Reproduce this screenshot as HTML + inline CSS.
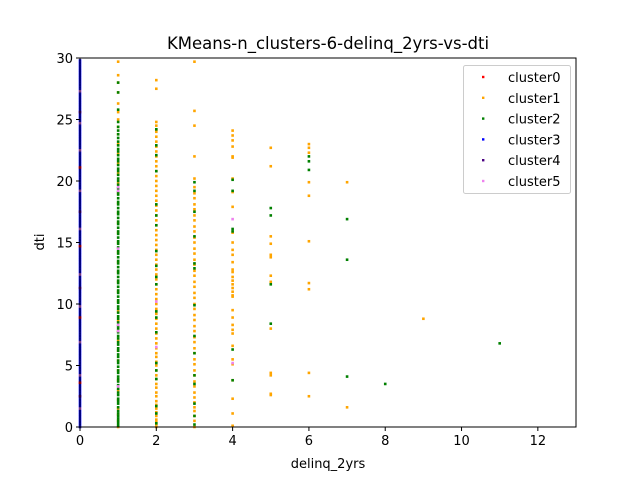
<!DOCTYPE html>
<html><head><meta charset="utf-8"><style>
body{margin:0;background:#fff;}
svg{display:block;font-family:"DejaVu Sans","Liberation Sans",sans-serif;}
</style></head><body>
<svg id="chart" width="640" height="480" viewBox="0 0 640 480">
<rect width="640" height="480" fill="#fff"/>
<text x="328" y="49" font-size="16.5" text-anchor="middle">KMeans-n_clusters-6-delinq_2yrs-vs-dti</text>
<g id="plot"></g>
<g id="axes"></g>
<text x="328" y="468" font-size="13" text-anchor="middle">delinq_2yrs</text>
<text x="0" y="0" font-size="13" text-anchor="middle" transform="translate(44,242) rotate(-90)">dti</text>
<g id="legend"></g>
</svg>
<script>
const xTicks=[0,2,4,6,8,10,12];
const yTicks=[0,5,10,15,20,25,30];
const clusterNames=["cluster0","cluster1","cluster2","cluster3","cluster4","cluster5"];
const clusterColors=["red","orange","green","blue","indigo","violet"];
const c3x0=[0,0.2,0.4,0.6,0.8,1,1.2,1.4,1.6,1.8,2,2.2,2.4,2.6,2.8,3,3.2,3.4,3.6,3.8,4,4.2,4.4,4.6,4.8,5,5.2,5.4,5.6,5.8,6,6.2,6.4,6.6,6.8,7,7.2,7.4,7.6,7.8,8,8.2,8.4,8.6,8.8,9,9.2,9.4,9.6,9.8,10,10.2,10.4,10.6,10.8,11,11.2,11.4,11.6,11.8,12,12.2,12.4,12.6,12.8,13,13.2,13.4,13.6,13.8,14,14.2,14.4,14.6,14.8,15,15.2,15.4,15.6,15.8,16,16.2,16.4,16.6,16.8,17,17.2,17.4,17.6,17.8,18,18.2,18.4,18.6,18.8,19,19.2,19.4,19.6,19.8,20,20.2,20.4,20.6,20.8,21,21.2,21.4,21.6,21.8,22,22.2,22.4,22.6,22.8,23,23.2,23.4,23.6,23.8,24,24.2,24.4,24.6,24.8,25,25.2,25.4,25.6,25.8,26,26.2,26.4,26.6,26.8,27,27.2,27.4,27.6,27.8,28,28.2,28.4,28.6,28.8,29,29.2,29.4,29.6,29.8];
const c5x0=[1.5,4.2,6.9,9.8,12.4,16.1,19.2,22.5,24.7,27.3];
const c4x0=[2.5,11.3,17.5,25.6];
const c0x0=[3.6,8.9,14.7,21.1];
const c1x1=[0,0.5,1,1.5,2.2,3,3.8,4.6,5.4,6.2,7,7.8,8.6,9.4,10.2,11,11.8,12.6,13.4,14.2,15,15.8,16.6,17.4,18.2,19,19.8,20.6,21.4,22.2,23,23.8,24.4,25,25.6,26.3,27.2,28,28.6,29.7];
const c2x1=[0.1,0.3,0.5,0.7,0.9,1.1,1.3,1.6,1.9,2.1,2.3,2.6,2.8,3.1,3.4,3.7,3.9,4.1,4.4,4.6,4.9,5.2,5.4,5.7,5.9,6.2,6.4,6.7,6.9,7.2,7.4,7.7,8,8.2,8.5,8.8,9,9.3,9.6,9.8,10.1,10.3,10.6,10.9,11.1,11.4,11.7,11.9,12.2,12.5,12.7,13,13.3,13.5,13.8,14.1,14.3,14.6,14.9,15.1,15.4,15.7,15.9,16.2,16.5,16.7,17,17.3,17.5,17.8,18.1,18.3,18.6,18.9,19.1,19.4,19.7,20,20.2,20.5,20.8,21,21.3,21.6,21.8,22.1,22.4,22.6,22.9,23.2,23.5,23.8,24.1,24.4,24.8,25.8,27.2,28];
const c5x1=[3.3,7.8,8.3,14.5,19.2,19.5];
const c1x2=[0,0.2,0.4,0.6,0.9,1.2,1.5,1.8,2.1,2.5,2.8,3.2,3.5,3.9,4.2,4.6,5,5.3,5.7,6,6.4,6.8,7.2,7.6,8,8.4,8.8,9.2,9.6,10,10.4,10.8,11.2,11.6,12,12.4,12.8,13.2,13.6,14,14.4,14.8,15.2,15.6,16,16.4,16.8,17.2,17.6,18,18.4,18.8,19.2,19.6,20,20.4,20.8,21.2,21.6,22,22.4,22.8,23.2,23.6,24,24.2,24.5,24.8,27.5,28.2];
const c2x2=[0.3,1.1,1.7,3.9,4.6,5.2,7.7,8.9,9.4,11.6,12.2,13.1,14.3,16.4,17.2,18.1,20.8,22.1,22.9,24.2];
const c5x2=[6.5,10.2];
const c1x3=[0,0.5,0.9,1.3,1.6,2,2.4,2.8,3.3,3.7,4.2,4.6,5.1,5.5,6,6.4,6.9,7.3,7.8,8.2,8.7,9.1,9.6,10,10.5,10.9,11.4,11.8,12.3,12.7,13.2,13.6,14.1,14.5,15,15.4,15.9,16.3,16.8,17.2,17.7,18.1,18.6,19,19.5,20.2,22,24.5,25.7,29.7];
const c2x3=[0.2,0.9,1.9,3.5,4.2,6,7.4,9.9,12.9,13.3,15.5,17.5,19.2,19.9];
const c1x4=[0.1,1.1,2.3,3.8,5.1,5.5,6.6,7.6,7.9,8.3,8.9,9.5,10.6,10.7,11,11.3,11.6,11.9,12.2,12.6,12.8,13.4,14,14.4,15,15.8,17.9,19.1,20.2,21.9,22,22.8,23.3,23.7,24.1];
const c2x4=[3.8,6.3,15.9,16.1,19.2,20.1];
const c5x4=[16.9,5.2];
const c1x5=[2.6,2.7,4.2,4.4,8,11.8,12.3,13.8,14,14.9,15.5,21.2,22.7];
const c2x5=[8.4,11.6,17.2,17.8];
const c1x6=[2.5,4.4,11.2,11.7,15.1,18.8,19.9,22.3,22.7,23];
const c2x6=[20.9,21.6,22];
const c1x7=[1.6,19.9];
const c2x7=[4.1,13.6,16.9];
const c2x8=[3.5];
const c1x9=[8.8];
const c2x11=[6.8];

const NS="http://www.w3.org/2000/svg";
const L=80,R=576,T=58,B=427,XMAX=13,YMAX=30;
function X(v){return L+v/XMAX*(R-L);}
function Y(v){return B-v/YMAX*(B-T);}
const plot=document.getElementById('plot');
function pts(x,arr,ci){
  arr.forEach(v=>{
    const r=document.createElementNS(NS,'rect');
    r.setAttribute('x',X(x)-1.3);r.setAttribute('y',Y(v)-1.3);
    r.setAttribute('width',2.6);r.setAttribute('height',2.6);
    r.setAttribute('fill',clusterColors[ci]);
    
    
    plot.appendChild(r);
  });
}
pts(1,c1x1,1);pts(1,c2x1,2);pts(1,c5x1,5);
pts(2,c1x2,1);pts(2,c2x2,2);pts(2,c5x2,5);
pts(3,c1x3,1);pts(3,c2x3,2);
pts(4,c1x4,1);pts(4,c2x4,2);pts(4,c5x4,5);
pts(5,c1x5,1);pts(5,c2x5,2);
pts(6,c1x6,1);pts(6,c2x6,2);
pts(7,c1x7,1);pts(7,c2x7,2);
pts(8,c2x8,2);pts(9,c1x9,1);pts(11,c2x11,2);
pts(0,c3x0,3);pts(0,c5x0,5);pts(0,c4x0,4);pts(0,c0x0,0);

const axes=document.getElementById('axes');
const fr=document.createElementNS(NS,'rect');
fr.setAttribute('x',L);fr.setAttribute('y',T);fr.setAttribute('width',R-L);fr.setAttribute('height',B-T);
fr.setAttribute('fill','none');fr.setAttribute('stroke','#000');fr.setAttribute('stroke-width','1');


axes.appendChild(fr);
xTicks.forEach(t=>{
  const l=document.createElementNS(NS,'line');
  l.setAttribute('x1',X(t));l.setAttribute('x2',X(t));l.setAttribute('y1',B);l.setAttribute('y2',B+4);l.setAttribute('stroke','#000');
  
  
  axes.appendChild(l);
  const tx=document.createElementNS(NS,'text');
  tx.setAttribute('x',X(t));tx.setAttribute('y',B+18);tx.setAttribute('font-size','13');tx.setAttribute('text-anchor','middle');
  tx.textContent=t;
  
  
  axes.appendChild(tx);
});
yTicks.forEach(t=>{
  const l=document.createElementNS(NS,'line');
  l.setAttribute('x1',L-4);l.setAttribute('x2',L);l.setAttribute('y1',Y(t));l.setAttribute('y2',Y(t));l.setAttribute('stroke','#000');
  
  
  axes.appendChild(l);
  const tx=document.createElementNS(NS,'text');
  tx.setAttribute('x',L-7);tx.setAttribute('y',Y(t)+5);tx.setAttribute('font-size','13');tx.setAttribute('text-anchor','end');
  tx.textContent=t;
  
  
  axes.appendChild(tx);
});

const lg=document.getElementById('legend');
const box=document.createElementNS(NS,'rect');
box.setAttribute('x',463.5);box.setAttribute('y',65.5);box.setAttribute('width',107);box.setAttribute('height',128);box.setAttribute('rx',2);
box.setAttribute('fill','#fff');box.setAttribute('fill-opacity','0.8');box.setAttribute('stroke','#ccc');


lg.appendChild(box);
clusterNames.forEach((n,i)=>{
  const y=77+i*20.8;
  const m=document.createElementNS(NS,'rect');
  m.setAttribute('x',482);m.setAttribute('y',y-1.2);m.setAttribute('width',2.4);m.setAttribute('height',2.4);m.setAttribute('fill',clusterColors[i]);
  
  
  lg.appendChild(m);
  const t=document.createElementNS(NS,'text');
  t.setAttribute('x',508);t.setAttribute('y',y+5);t.setAttribute('font-size','13');
  t.textContent=n;
  
  
  lg.appendChild(t);
});
</script>
</body></html>
